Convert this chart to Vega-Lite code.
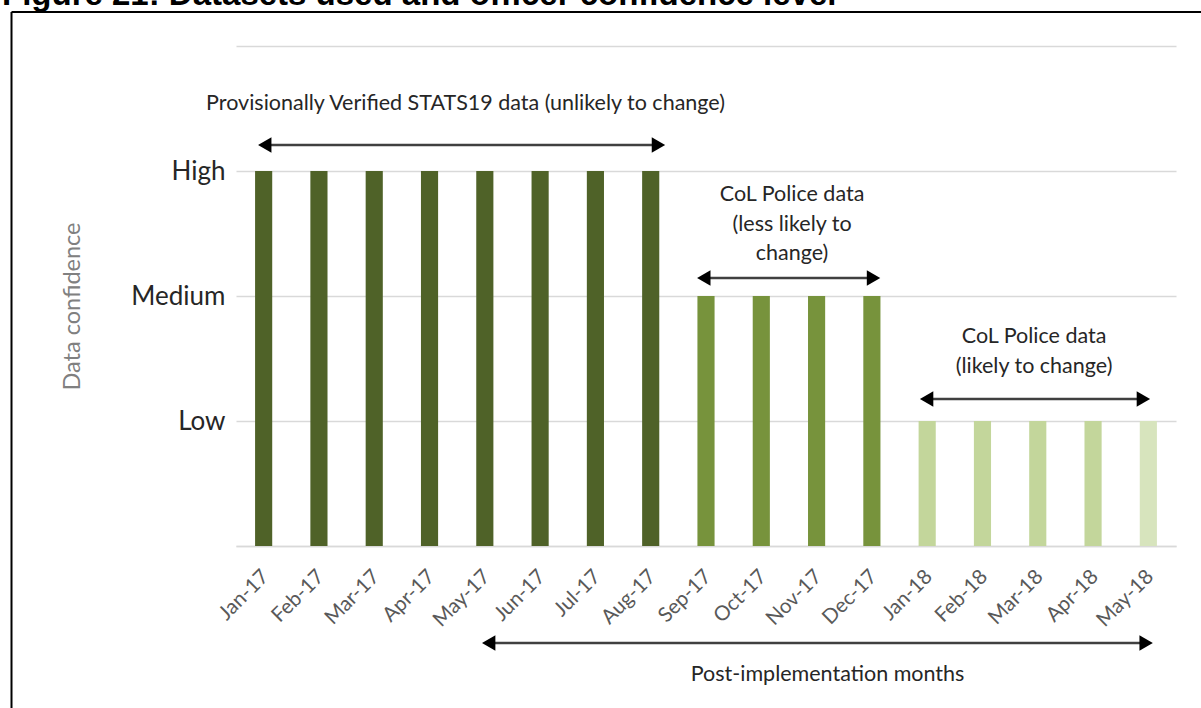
{
  "$schema": "https://vega.github.io/schema/vega-lite/v6.json",
  "width": 940,
  "height": 500,
  "autosize": {"type": "none"},
  "padding": {"left": 236, "top": 46, "right": 25, "bottom": 162},
  "background": "white",
  "config": {"view": {"stroke": null}},
  "title": {
    "text": "Figure 21: Datasets used and officer confidence level",
    "anchor": "start",
    "frame": "group",
    "dx": -234,
    "offset": -27,
    "baseline": "alphabetic",
    "font": "Liberation Sans",
    "fontSize": 33,
    "fontWeight": "bold",
    "color": "#000000"
  },
  "datasets": {
    "bars": [
      {"month": "Jan-17", "y": 3, "category": "Provisionally verified"},
      {"month": "Feb-17", "y": 3, "category": "Provisionally verified"},
      {"month": "Mar-17", "y": 3, "category": "Provisionally verified"},
      {"month": "Apr-17", "y": 3, "category": "Provisionally verified"},
      {"month": "May-17", "y": 3, "category": "Provisionally verified"},
      {"month": "Jun-17", "y": 3, "category": "Provisionally verified"},
      {"month": "Jul-17", "y": 3, "category": "Provisionally verified"},
      {"month": "Aug-17", "y": 3, "category": "Provisionally verified"},
      {"month": "Sep-17", "y": 2, "category": "Less likely to change"},
      {"month": "Oct-17", "y": 2, "category": "Less likely to change"},
      {"month": "Nov-17", "y": 2, "category": "Less likely to change"},
      {"month": "Dec-17", "y": 2, "category": "Less likely to change"},
      {"month": "Jan-18", "y": 1, "category": "Likely to change"},
      {"month": "Feb-18", "y": 1, "category": "Likely to change"},
      {"month": "Mar-18", "y": 1, "category": "Likely to change"},
      {"month": "Apr-18", "y": 1, "category": "Likely to change"},
      {"month": "May-18", "y": 1, "category": "Latest month"}
    ],
    "arrows": [
      {"x": 0.52, "x2": 7.64, "y": 3.208},
      {"x": 8.46, "x2": 11.53, "y": 2.144},
      {"x": 12.49, "x2": 16.41, "y": 1.176},
      {"x": 4.57, "x2": 16.46, "y": -0.776}
    ],
    "heads": [
      {"x": 0.52, "y": 3.208, "dir": "left"},
      {"x": 7.64, "y": 3.208, "dir": "right"},
      {"x": 8.46, "y": 2.144, "dir": "left"},
      {"x": 11.53, "y": 2.144, "dir": "right"},
      {"x": 12.49, "y": 1.176, "dir": "left"},
      {"x": 16.41, "y": 1.176, "dir": "right"},
      {"x": 4.57, "y": -0.776, "dir": "left"},
      {"x": 16.46, "y": -0.776, "dir": "right"}
    ],
    "notes": [
      {"x": 4.151, "y": 3.536, "label": ["Provisionally Verified STATS19 data (unlikely to change)"]},
      {"x": 10.056, "y": 2.808, "label": ["CoL Police data", "(less likely to", "change)"]},
      {"x": 14.433, "y": 1.672, "label": ["CoL Police data", "(likely to change)"]},
      {"x": 10.698, "y": -1.032, "label": ["Post-implementation months"]}
    ],
    "frame": [
      {"x": -4.06, "x2": -4.06, "y": 4.272, "y2": -1.6},
      {"x": -4.06, "x2": 18.5, "y": 4.272, "y2": 4.272}
    ]
  },
  "layer": [
    {
      "data": {"name": "bars"},
      "mark": {"type": "bar"},
      "encoding": {
        "x": {
          "field": "month",
          "type": "ordinal",
          "sort": null,
          "scale": {"paddingInner": 0.69, "paddingOuter": 0.345},
          "axis": {
            "title": null,
            "labelAngle": -45,
            "labelFont": "Lato",
            "labelFontSize": 20.5,
            "labelColor": "#595959",
            "ticks": false,
            "domainColor": "#d9d9d9",
            "domainWidth": 1.5,
            "labelPadding": 20,
            "labelOffset": -5
          }
        },
        "y": {
          "field": "y",
          "type": "quantitative",
          "title": "Data confidence",
          "scale": {"domain": [0, 4], "nice": false},
          "axis": {
            "values": [0, 1, 2, 3, 4],
            "labelExpr": "datum.value == 3 ? 'High' : datum.value == 2 ? 'Medium' : datum.value == 1 ? 'Low' : ''",
            "labelFont": "Lato",
            "labelFontSize": 26,
            "labelColor": "#262626",
            "labelPadding": 11,
            "ticks": false,
            "domain": false,
            "gridColor": "#d9d9d9",
            "gridWidth": 1.5,
            "titleFont": "Lato",
            "titleFontSize": 23.5,
            "titleFontWeight": "normal",
            "titleColor": "#808080",
            "titlePadding": 46,
            "titleY": 260
          }
        },
        "color": {
          "field": "category",
          "type": "nominal",
          "scale": {
            "domain": ["Provisionally verified", "Less likely to change", "Likely to change", "Latest month"],
            "range": ["#4f6228", "#77933c", "#c3d69b", "#d7e4bd"]
          },
          "legend": null
        }
      }
    },
    {
      "layer": [
        {
          "data": {"name": "frame"},
          "mark": {"type": "rule", "color": "#000000", "strokeWidth": 2},
          "encoding": {
            "x": {"field": "x", "type": "quantitative", "scale": {"domain": [0, 17], "nice": false, "zero": false}, "axis": null},
            "x2": {"field": "x2"},
            "y": {"field": "y", "type": "quantitative", "title": "Data confidence", "scale": {"domain": [0, 4], "nice": false}},
            "y2": {"field": "y2"}
          }
        },
        {
          "data": {"name": "arrows"},
          "mark": {"type": "rule", "color": "#404040", "strokeWidth": 2.5},
          "encoding": {
            "x": {"field": "x", "type": "quantitative", "scale": {"domain": [0, 17], "nice": false, "zero": false}, "axis": null},
            "x2": {"field": "x2"},
            "y": {"field": "y", "type": "quantitative", "title": "Data confidence", "scale": {"domain": [0, 4], "nice": false}}
          }
        },
        {
          "data": {"name": "heads"},
          "mark": {"type": "point", "filled": true, "opacity": 1, "color": "#000000", "size": 240},
          "encoding": {
            "x": {"field": "x", "type": "quantitative", "scale": {"domain": [0, 17], "nice": false, "zero": false}, "axis": null},
            "y": {"field": "y", "type": "quantitative", "title": "Data confidence", "scale": {"domain": [0, 4], "nice": false}},
            "shape": {
              "field": "dir",
              "type": "nominal",
              "scale": {"domain": ["left", "right"], "range": ["triangle-left", "triangle-right"]},
              "legend": null
            }
          }
        },
        {
          "data": {"name": "notes"},
          "mark": {"type": "text", "font": "Lato", "fontSize": 21.5, "color": "#262626", "align": "center", "baseline": "middle", "lineHeight": 29.5},
          "encoding": {
            "x": {"field": "x", "type": "quantitative", "scale": {"domain": [0, 17], "nice": false, "zero": false}, "axis": null},
            "y": {"field": "y", "type": "quantitative", "title": "Data confidence", "scale": {"domain": [0, 4], "nice": false}},
            "text": {"field": "label"}
          }
        }
      ]
    }
  ],
  "resolve": {"scale": {"x": "independent"}}
}
